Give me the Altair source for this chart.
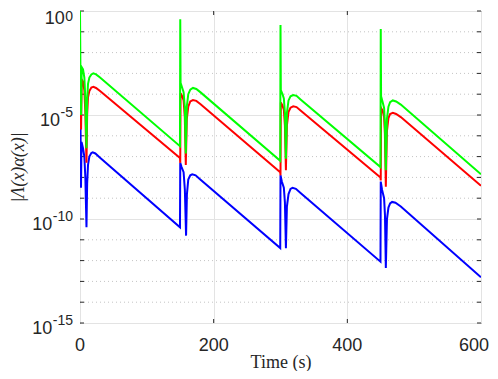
import altair as alt
import pandas as pd

# ---- data (time in s, log10 of |Λ(x)α(x)|) ----
green_t = [0, 0.6, 1.6, 2.6, 4.5, 6.5, 8.0, 9.7, 10.7, 12, 14, 17, 20, 24, 30, 149.6,
           150, 150.5, 153, 155, 156.8, 158.3, 159.8, 162, 165, 169, 174, 180, 299.6,
           300, 300.5, 303, 305, 306.6, 308.1, 309.6, 312, 315, 319, 324, 330, 449.6,
           450, 450.5, 453, 455, 456.2, 457.6, 459.2, 461.5, 464, 468, 473, 480, 600]
green_e = [0.0, -2.6, -5.0, -2.7, -2.8, -3.2, -4.2, -6.6, -4.3, -3.5, -3.2, -3.05, -3.0, -3.05, -3.2, -6.5,
           -0.4, -3.45, -3.7, -3.9, -4.6, -6.85, -4.6, -4.0, -3.78, -3.7, -3.75, -3.9, -7.2,
           -0.67, -3.8, -4.0, -4.2, -4.9, -7.1, -4.9, -4.3, -4.1, -4.04, -4.08, -4.25, -7.5,
           -0.87, -4.1, -4.4, -4.66, -5.4, -7.65, -5.2, -4.6, -4.38, -4.3, -4.35, -4.5, -7.85]

red_t = [0, 0.8, 1.6, 2.6, 4.5, 6.5, 8.0, 9.7, 10.7, 12, 14, 17, 20, 24, 30, 149.6,
         150, 150.5, 153, 155, 156.8, 158.3, 159.8, 162, 165, 169, 174, 180, 299.6,
         300, 300.5, 303, 305, 306.6, 308.1, 309.6, 312, 315, 319, 324, 330, 449.6,
         450, 450.5, 453, 455, 456.2, 457.6, 459.2, 461.5, 464, 468, 473, 480, 600]
red_e = [-2.6, -3.2, -5.7, -3.3, -3.4, -3.8, -4.9, -7.3, -5.0, -4.15, -3.85, -3.68, -3.65, -3.7, -3.85, -7.07,
         -7.3, -3.95, -4.1, -4.3, -5.1, -7.4, -5.2, -4.6, -4.35, -4.28, -4.32, -4.47, -7.75,
         -7.9, -4.4, -4.55, -4.75, -5.5, -7.65, -5.5, -4.85, -4.65, -4.58, -4.62, -4.78, -8.0,
         -8.15, -4.66, -4.8, -5.1, -5.9, -8.45, -5.8, -5.15, -4.95, -4.9, -4.95, -5.1, -8.4]

blue_t = [0, 0.8, 1.5, 2.3, 4.5, 6.5, 8.0, 9.7, 10.7, 12, 14, 17, 19, 23, 30, 149.6,
          150, 152, 155, 156.9, 158.7, 160, 162, 165, 168, 173, 180, 299.6,
          300, 302, 305, 306.6, 308.1, 309.6, 312, 315, 318, 323, 330, 449.6,
          450, 452, 455, 456.3, 457.6, 459.3, 461.5, 464, 467, 472, 480, 600]
blue_e = [-3.8, -5.5, -8.5, -6.3, -6.6, -7.0, -8.0, -10.4, -8.3, -7.4, -7.0, -6.83, -6.8, -6.85, -7.05, -10.4,
          -7.3, -7.5, -7.75, -8.6, -10.8, -8.8, -8.1, -7.9, -7.85, -7.9, -8.1, -11.4,
          -7.9, -8.2, -8.5, -9.2, -11.4, -9.4, -8.8, -8.55, -8.5, -8.55, -8.75, -12.05,
          -8.2, -8.6, -9.0, -9.8, -12.35, -10.0, -9.45, -9.25, -9.18, -9.22, -9.4, -12.8]

x_ticks = [0, 200, 400, 600]
x_label_text = ["0", "200", "400", "600"]
x_inner_ticks = [200, 400]
y_major_exp = [0, -5, -10, -15]
y_minor_exp = [-1, -2, -3, -4, -6, -7, -8, -9, -11, -12, -13, -14]
y_all_exp = [0, -1, -2, -3, -4, -5, -6, -7, -8, -9, -10, -11, -12, -13, -14, -15]

W, H = 401, 312
TXT = "#262626"
SANS = "Liberation Sans, Arial, Helvetica, sans-serif"
SERIF = "Liberation Serif, DejaVu Serif, serif"

xs = alt.Scale(domain=[0, 600], nice=False, zero=False)
ys = alt.Scale(type="log", domain=[1e-15, 1], nice=False)

x_axis = alt.Axis(values=x_ticks, grid=True, gridColor="#e3e3e3", gridWidth=1,
                  ticks=False, domain=False, labels=False,
                  title="Time (s)", titleFont=SERIF,
                  titleFontSize=18, titleFontWeight="normal", titleColor=TXT,
                  titleX=W / 2, titleY=44, titleBaseline="alphabetic", titleAlign="center")
y_axis = alt.Axis(values=[10.0 ** e for e in y_major_exp], grid=True, gridColor="#e3e3e3",
                  gridWidth=1, ticks=False, domain=False, labels=False,
                  title="|Λ(x)α(x)|", titleFont=SERIF, titleFontStyle="italic",
                  titleFontSize=18, titleFontWeight="normal", titleColor=TXT,
                  titleX=-62, titleY=H / 2, titleAngle=-90, titleBaseline="middle",
                  titleAlign="center")


def series_df(t, e):
    return pd.DataFrame({"t": t, "v": [10.0 ** x for x in e], "i": list(range(len(t)))})


def yenc(field="v"):
    return alt.Y(f"{field}:Q", scale=ys, axis=y_axis)


def xenc(field="t"):
    return alt.X(f"{field}:Q", scale=xs, axis=x_axis)


minor_df = pd.DataFrame({"v": [10.0 ** e for e in y_minor_exp]})
all_df = pd.DataFrame({"v": [10.0 ** e for e in y_all_exp]})
xt_df = pd.DataFrame({"t": x_inner_ticks})

layers = []
layers.append(alt.Chart(minor_df).mark_rule(color="#c4c4c4", strokeDash=[1, 3], strokeWidth=1)
              .encode(y=yenc()))
layers.append(alt.Chart(all_df).mark_rule(color=TXT, strokeWidth=1)
              .encode(y=yenc(), x=alt.value(0), x2=alt.value(4)))
layers.append(alt.Chart(all_df).mark_rule(color=TXT, strokeWidth=1)
              .encode(y=yenc(), x=alt.value(W - 4), x2=alt.value(W)))
layers.append(alt.Chart(xt_df).mark_rule(color=TXT, strokeWidth=1)
              .encode(x=xenc(), y=alt.value(H), y2=alt.value(H - 4)))
layers.append(alt.Chart(xt_df).mark_rule(color=TXT, strokeWidth=1)
              .encode(x=xenc(), y=alt.value(0), y2=alt.value(4)))

for t, e, c in [(blue_t, blue_e, "#0000ff"), (red_t, red_e, "#ff0000"), (green_t, green_e, "#00ff00")]:
    layers.append(alt.Chart(series_df(t, e)).mark_line(color=c, strokeWidth=2, clip=True)
                  .encode(x=xenc(), y=yenc(), order="i:Q"))

# y tick labels: "10" with a superscript exponent (top one nudged down to stay on the page)
for e in y_major_exp:
    s = str(e)
    exp_w = 7.8 * sum(ch.isdigit() for ch in s) + 4.7 * s.count("-")
    top_shift = 2.5 if e == y_major_exp[0] else 0
    exp_dy = 9.5 if e == y_major_exp[0] else 2
    d = pd.DataFrame({"v": [10.0 ** e], "base": ["10"], "exp": [s]})
    layers.append(alt.Chart(d).mark_text(align="right", baseline="alphabetic", fontSize=14,
                                         font=SANS, color=TXT, dy=exp_dy)
                  .encode(x=alt.value(-7), y=yenc(), text="exp:N"))
    layers.append(alt.Chart(d).mark_text(align="right", baseline="alphabetic", fontSize=18,
                                         font=SANS, color=TXT, dy=10.5 + top_shift,
                                         dx=-exp_w - 0.5)
                  .encode(x=alt.value(-7), y=yenc(), text="base:N"))

# x tick labels (last one nudged so it stays inside the page)
for v, s in zip(x_ticks, x_label_text):
    d = pd.DataFrame({"t": [v], "lab": [s]})
    nudge = -7 if v == x_ticks[-1] else 0
    layers.append(alt.Chart(d).mark_text(align="center", baseline="alphabetic", fontSize=18,
                                         font=SANS, color=TXT, dy=28, dx=nudge)
                  .encode(x=xenc(), y=alt.value(H), text="lab:N"))

chart = (alt.layer(*layers)
         .properties(width=W, height=H, background="white",
                     autosize=alt.AutoSizeParams(type="none"),
                     padding={"left": 72, "top": 3, "right": 9, "bottom": 48})
         .configure_view(stroke=TXT, strokeWidth=1))

chart.save("out.html", embed_options={"renderer": "svg", "actions": False})
